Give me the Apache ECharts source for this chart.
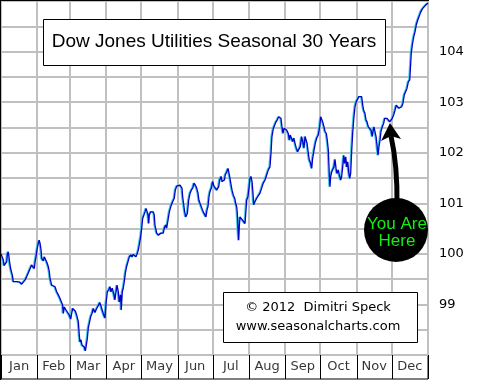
<!DOCTYPE html>
<html><head><meta charset="utf-8">
<script src="https://cdn.jsdelivr.net/npm/echarts@6/dist/echarts.min.js"></script>
<style>html,body{margin:0;padding:0;background:#fff}#c{width:480px;height:380px}</style>
</head><body><div id="c"></div>
<script>
const months = ['Jan','Feb','Mar','Apr','May','Jun','Jul','Aug','Sep','Oct','Nov','Dec'];
const monthStarts = [0,31,59,90,120,151,181,212,243,273,304,334,365];
const yTicks = [99,100,101,102,103,104];
const titleText = 'Dow Jones Utilities Seasonal 30 Years';
const creditLines = ['© 2012  Dimitri Speck','www.seasonalcharts.com'];
const markerText = 'You Are\nHere';

const days = [
0,1.7,2.0,2.6,4.3,4.9,5.4,6.2,6.8,7.7,
8.5,9.7,10.5,12.0,13.4,14.8,16.2,17.7,19.1,20.5,
22.0,23.3,24.8,26.2,27.6,28.5,29.1,29.9,31.0,31.9,
32.7,33.6,34.2,34.8,35.6,36.2,37.0,37.9,39.1,40.4,
41.3,41.9,43.3,44.7,46.2,47.6,49.0,50.4,51.9,52.7,
53.3,54.1,55.6,57.0,58.4,59.6,60.4,61.3,62.4,63.5,
64.7,66.1,66.9,67.5,68.4,69.2,70.4,71.2,72.1,72.7,
73.8,74.6,75.5,76.7,77.8,78.9,80.4,81.2,82.3,83.5,
84.4,85.2,86.1,87.4,88.9,89.8,90.9,92.1,93.2,94.0,
95.1,96.6,97.4,98.3,99.2,100.3,101.1,102.3,102.8,103.7,
104.5,105.4,106.3,107.4,108.8,109.7,110.9,112.0,113.1,114.5,
115.4,116.5,117.4,118.2,119.4,120.3,121.1,122.2,123.1,124.0,
124.8,125.7,126.3,126.8,128.0,129.1,130.2,131.0,131.6,133.1,
134.5,135.9,136.8,137.6,138.7,139.6,140.8,141.6,142.8,143.9,
145.1,146.2,147.3,148.1,149.0,150.2,151.6,153.0,154.1,154.7,
155.3,156.2,157.0,157.9,158.7,159.3,160.4,161.6,162.7,163.9,
165.0,166.1,167.3,168.4,169.2,170.1,171.6,172.9,174.1,175.2,
176.1,176.9,177.8,178.6,179.8,180.9,182.1,183.2,184.4,185.2,
186.1,186.9,188.2,189.0,190.1,191.0,191.7,192.9,194.1,194.9,
195.8,196.7,197.5,198.6,199.8,200.6,201.5,202.0,202.6,203.2,
203.7,204.3,205.4,206.3,207.5,208.6,209.2,210.0,211.1,212.0,
212.8,213.7,214.6,215.4,216.0,217.1,218.6,219.9,221.4,222.8,
224.2,225.7,227.1,228.5,229.9,230.8,231.6,232.8,234.0,235.1,
236.2,237.4,238.5,239.3,240.2,241.1,241.9,243.0,244.2,245.6,
246.5,247.3,248.5,249.3,250.4,251.3,252.4,253.6,254.7,255.8,
257.0,257.9,259.0,259.9,260.7,261.6,262.7,263.5,264.7,265.6,
266.4,267.6,268.7,269.9,271.2,272.4,273.3,274.1,275.0,276.1,
277.0,278.1,278.9,279.8,280.6,281.2,281.8,282.7,283.5,284.6,
285.5,286.4,287.2,288.3,289.2,290.4,291.2,292.1,293.0,293.8,
294.7,295.5,296.4,297.2,298.1,298.9,299.8,300.6,301.7,302.6,
303.7,304.9,306.0,307.1,308.3,309.2,310.0,311.1,312.0,312.9,
314.0,315.2,316.3,317.4,318.0,318.8,319.7,320.6,321.4,322.3,
323.1,324.0,324.8,325.9,327.1,328.0,328.8,330.0,331.1,332.3,
333.4,334.5,335.7,336.8,337.9,339.1,340.2,341.3,342.5,343.6,
344.7,345.9,347.0,348.2,349.4,349.9,350.7,351.6,352.8,353.9,
355.0,356.2,357.3,358.4,359.6,360.7,361.9,363.1,364.2,365
];
const values = [
100.00,99.99,99.88,99.77,99.77,99.84,99.99,100.04,99.94,99.78,
99.68,99.58,99.45,99.44,99.45,99.42,99.44,99.40,99.42,99.48,
99.55,99.62,99.65,99.78,99.81,99.71,99.84,99.94,100.11,100.21,
100.27,100.18,100.08,99.91,99.94,99.86,99.94,99.94,99.84,99.75,
99.65,99.52,99.38,99.37,99.35,99.25,99.19,99.12,99.09,98.99,
98.82,98.95,98.89,98.84,98.79,98.71,98.82,98.92,98.95,98.87,
98.79,98.66,98.40,98.26,98.30,98.20,98.23,98.16,98.08,98.16,
98.33,98.53,98.63,98.76,98.82,98.92,98.84,98.89,98.94,98.99,
99.04,98.99,98.92,98.82,98.73,99.02,99.25,99.29,99.35,99.25,
99.32,99.19,99.09,99.25,99.38,99.25,99.05,99.19,98.89,99.25,
99.32,99.45,99.62,99.75,99.78,99.94,99.98,99.94,99.99,99.96,
99.94,100.01,100.08,100.18,100.34,100.51,100.70,100.77,100.83,100.90,
100.92,100.77,100.60,100.77,100.83,100.80,100.83,100.77,100.57,100.41,
100.37,100.34,100.41,100.44,100.41,100.51,100.57,100.51,100.67,100.83,
100.93,101.00,101.06,101.10,101.26,101.34,101.34,101.36,101.36,101.30,
101.13,100.97,100.83,100.73,100.70,100.80,101.06,101.20,101.26,101.30,
101.40,101.36,101.30,101.20,101.06,101.00,100.97,100.83,100.80,100.73,
100.87,100.93,101.13,101.23,101.30,101.43,101.34,101.32,101.26,101.23,
101.33,101.46,101.53,101.43,101.40,101.46,101.56,101.62,101.69,101.66,
101.49,101.36,101.26,101.16,101.10,101.00,100.93,100.80,100.51,100.27,
100.54,100.73,100.70,100.67,100.64,100.60,100.80,101.06,101.13,101.30,
101.49,101.53,101.43,101.20,100.97,101.03,101.10,101.13,101.20,101.30,
101.40,101.46,101.56,101.66,101.72,101.99,102.32,102.48,102.55,102.61,
102.65,102.71,102.73,102.68,102.51,102.38,102.48,102.51,102.45,102.38,
102.25,102.35,102.32,102.22,102.29,102.19,102.09,102.02,102.05,102.12,
102.32,102.22,102.09,102.32,102.35,102.19,101.99,101.86,101.79,101.69,
101.89,102.05,102.19,102.29,102.35,102.51,102.71,102.71,102.61,102.51,
102.42,102.38,102.25,102.05,101.59,101.33,101.53,101.62,101.59,101.72,
101.87,101.69,101.59,101.66,101.56,101.46,101.53,101.72,101.95,101.79,
101.92,101.72,101.82,101.62,101.49,101.59,102.05,102.38,102.71,102.91,
103.01,103.04,103.11,103.08,103.11,102.94,102.84,102.78,102.65,102.61,
102.51,102.48,102.45,102.32,102.42,102.51,102.48,102.32,102.15,101.95,
102.12,102.25,102.42,102.51,102.58,102.68,102.70,102.68,102.65,102.61,
102.58,102.68,102.75,102.84,102.94,102.91,102.88,102.91,102.91,102.98,
103.14,103.17,103.27,103.40,103.44,103.64,103.97,104.13,104.29,104.39,
104.53,104.62,104.69,104.76,104.82,104.86,104.89,104.92,104.95,104.96
];

const monthMid = months.map((m, i) => (monthStarts[i] + monthStarts[i + 1]) / 2);
const chart = echarts.init(document.getElementById('c'), null, {renderer: 'canvas'});
const labelFont = 'DejaVu Sans';
const gridGray = '#c0c0c0';

// one custom series draws the month boundaries for both the plot (gray) and the label band (black)
chart.setOption({
  animation: false,
  backgroundColor: '#fff',
  grid: [
    {left: 1, top: 1, width: 427, height: 354, show: false},
    {left: 1, top: 355, width: 427, height: 24, show: true, borderColor: '#000', borderWidth: 1, backgroundColor: 'transparent'}
  ],
  xAxis: [
    {gridIndex: 0, type: 'value', min: 0, max: 365, show: false},
    {gridIndex: 1, type: 'value', min: 0, max: 365, show: false}
  ],
  yAxis: [
    {gridIndex: 0, type: 'value', min: 98, max: 105, interval: 0.5, position: 'right',
     axisLine: {show: false}, axisTick: {show: false},
     splitLine: {show: true, lineStyle: {color: gridGray, width: 2}},
     axisLabel: {margin: 11, color: '#000', fontFamily: labelFont, fontSize: 13,
       formatter: v => yTicks.indexOf(v) >= 0 ? String(v) : ''}},
    {gridIndex: 1, type: 'value', min: 0, max: 1, show: false}
  ],
  series: [
    {type: 'custom', xAxisIndex: 1, yAxisIndex: 1, silent: true, clip: false,
     data: monthStarts.map(d => [d, 0]),
     renderItem: function (params, api) {
       const x = api.value(0);
       const a = api.coord([x, 1]);
       const b = api.coord([x, 0]);
       const px = Math.round(a[0]);
       const bandH = b[1] - a[1];
       const plotH = bandH * 354 / 24;
       return {type: 'group', children: [
         {type: 'line', shape: {x1: px, y1: a[1] - plotH, x2: px, y2: a[1]}, style: {stroke: gridGray, lineWidth: 2}},
         {type: 'line', shape: {x1: px + 0.5, y1: a[1], x2: px + 0.5, y2: b[1]}, style: {stroke: '#000', lineWidth: 1}}
       ]};
     }},
    {type: 'line', xAxisIndex: 0, yAxisIndex: 0, data: days.map((d, i) => [d, values[i]]),
     showSymbol: false, silent: true, z: 3,
     lineStyle: {color: '#0000c8', width: 1.3, shadowColor: '#40c8e8', shadowOffsetX: -1, shadowBlur: 0}},
    {type: 'scatter', xAxisIndex: 1, yAxisIndex: 1, data: monthMid.map(d => [d, 0.5]), symbolSize: 0, silent: true,
     label: {show: true, position: 'inside', formatter: p => months[p.dataIndex],
       fontFamily: labelFont, fontSize: 13, color: '#000'}}
  ],
  graphic: [
    {type: 'line', shape: {x1: 0.5, y1: 0, x2: 0.5, y2: 380}, style: {stroke: '#000', lineWidth: 1}, z: 20, silent: true},
    {type: 'line', shape: {x1: 0, y1: 0.5, x2: 429, y2: 0.5}, style: {stroke: '#000', lineWidth: 1}, z: 20, silent: true},
    {type: 'rect', shape: {x: 43.5, y: 19.5, width: 342, height: 46}, style: {fill: '#fff', stroke: '#000', lineWidth: 1}, z: 20, silent: true},
    {type: 'text', x: 214, y: 42, style: {text: titleText, fontFamily: 'Liberation Sans', fontSize: 19, fill: '#000', align: 'center', verticalAlign: 'middle'}, z: 21, silent: true},
    {type: 'rect', shape: {x: 223.5, y: 292.5, width: 194, height: 50}, style: {fill: '#fff', stroke: '#000', lineWidth: 1}, z: 20, silent: true},
    {type: 'text', x: 318, y: 308, style: {text: creditLines[0], fontFamily: labelFont, fontSize: 13, fill: '#000', align: 'center', verticalAlign: 'middle'}, z: 21, silent: true},
    {type: 'text', x: 318, y: 327, style: {text: creditLines[1], fontFamily: labelFont, fontSize: 13, fill: '#000', align: 'center', verticalAlign: 'middle'}, z: 21, silent: true},
    {type: 'bezierCurve', shape: {x1: 397, y1: 205, x2: 391, y2: 136, cpx1: 397.5, cpy1: 165}, style: {stroke: '#000', lineWidth: 5, fill: null}, z: 20, silent: true},
    {type: 'polygon', shape: {points: [[390, 123], [381, 141], [391, 136], [401, 139]]}, style: {fill: '#000'}, z: 20, silent: true},
    {type: 'circle', shape: {cx: 396, cy: 230, r: 32}, style: {fill: '#000'}, z: 20, silent: true},
    {type: 'text', x: 397, y: 233, style: {text: markerText, fontFamily: 'Liberation Sans', fontSize: 17, lineHeight: 17, fill: '#11ee11', align: 'center', verticalAlign: 'middle'}, z: 21, silent: true}
  ]
});
</script>
</body></html>
